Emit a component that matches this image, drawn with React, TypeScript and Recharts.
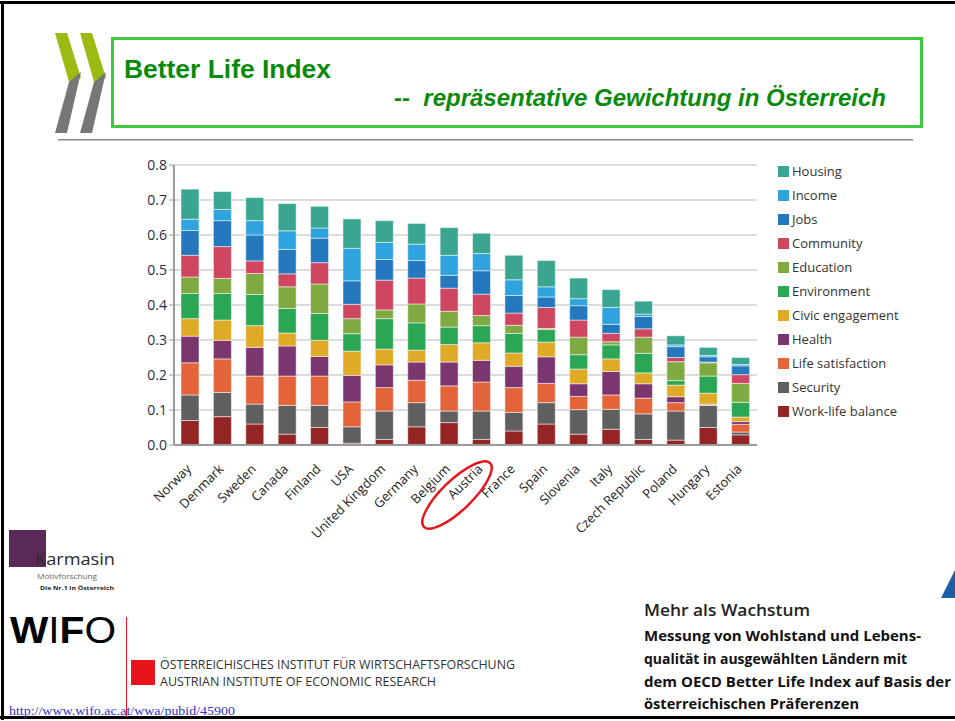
import { Bar, BarChart, CartesianGrid, XAxis, YAxis } from "recharts";

const countries = [
  "Norway", "Denmark", "Sweden", "Canada", "Finland", "USA", "United Kingdom", "Germany", "Belgium",
  "Austria", "France", "Spain", "Slovenia", "Italy", "Czech Republic", "Poland", "Hungary", "Estonia",
];

// stacked from the bottom up
const workLife = [0.07, 0.081, 0.06, 0.031, 0.05, 0.005, 0.016, 0.052, 0.064, 0.016, 0.04, 0.06, 0.031, 0.045, 0.016, 0.014, 0.05, 0.029];
const security = [0.073, 0.069, 0.057, 0.082, 0.063, 0.047, 0.081, 0.069, 0.033, 0.081, 0.053, 0.061, 0.07, 0.057, 0.073, 0.083, 0.063, 0.008];
const lifeSatisfaction = [0.092, 0.096, 0.08, 0.084, 0.084, 0.071, 0.067, 0.064, 0.072, 0.083, 0.071, 0.055, 0.038, 0.041, 0.045, 0.024, 0.002, 0.022];
const health = [0.076, 0.053, 0.082, 0.086, 0.056, 0.076, 0.065, 0.052, 0.068, 0.062, 0.061, 0.076, 0.036, 0.067, 0.041, 0.017, 0.002, 0.008];
const civic = [0.05, 0.058, 0.062, 0.037, 0.046, 0.069, 0.045, 0.034, 0.05, 0.05, 0.038, 0.042, 0.042, 0.036, 0.031, 0.033, 0.031, 0.013];
const environment = [0.072, 0.076, 0.089, 0.07, 0.077, 0.05, 0.087, 0.078, 0.05, 0.049, 0.056, 0.036, 0.041, 0.04, 0.056, 0.013, 0.049, 0.042];
const education = [0.047, 0.043, 0.06, 0.062, 0.084, 0.043, 0.025, 0.054, 0.045, 0.029, 0.023, 0.003, 0.05, 0.009, 0.046, 0.054, 0.038, 0.054];
const community = [0.062, 0.091, 0.036, 0.037, 0.061, 0.041, 0.085, 0.074, 0.066, 0.061, 0.035, 0.06, 0.049, 0.024, 0.024, 0.012, 0.002, 0.025];
const jobs = [0.071, 0.074, 0.074, 0.07, 0.07, 0.067, 0.059, 0.05, 0.037, 0.067, 0.05, 0.03, 0.041, 0.026, 0.035, 0.031, 0.015, 0.025];
const income = [0.032, 0.032, 0.041, 0.053, 0.029, 0.093, 0.049, 0.047, 0.057, 0.049, 0.045, 0.029, 0.02, 0.048, 0.007, 0.005, 0.004, 0.004];
const housing = [0.086, 0.051, 0.066, 0.078, 0.062, 0.084, 0.062, 0.059, 0.079, 0.058, 0.07, 0.075, 0.059, 0.051, 0.037, 0.026, 0.023, 0.02];

const yTicks = [0, 0.1, 0.2, 0.3, 0.4, 0.5, 0.6, 0.7, 0.8];

const series = [
  { key: "workLife", name: "Work-life balance", values: workLife, color: "#952524" },
  { key: "security", name: "Security", values: security, color: "#5f5f5f" },
  { key: "lifeSatisfaction", name: "Life satisfaction", values: lifeSatisfaction, color: "#e4643a" },
  { key: "health", name: "Health", values: health, color: "#7b3670" },
  { key: "civic", name: "Civic engagement", values: civic, color: "#dfaa25" },
  { key: "environment", name: "Environment", values: environment, color: "#2aa655" },
  { key: "education", name: "Education", values: education, color: "#7faa41" },
  { key: "community", name: "Community", values: community, color: "#cf4660" },
  { key: "jobs", name: "Jobs", values: jobs, color: "#2478bd" },
  { key: "income", name: "Income", values: income, color: "#2ea3dd" },
  { key: "housing", name: "Housing", values: housing, color: "#3aa68f" },
];

const rows = countries.map((country, i) => {
  const row: any = { country };
  series.forEach((s) => (row[s.key] = s.values[i]));
  return row;
});

const FONT = "'Open Sans', sans-serif";

const CountryTick = ({ x, y, payload }: any) => (
  <g transform={`translate(${x - 1},${y + 14})`}>
    <text x={0} y={0} dy={4} textAnchor="end" transform="rotate(-45)" fill="#222" fontSize={13} fontFamily={FONT}>
      {payload.value}
    </text>
  </g>
);

const Decor = () => (
  <svg width={955} height={721} style={{ position: "absolute", left: 0, top: 0, pointerEvents: "none" }}>
    {/* frame */}
    <rect x={0} y={1} width={955} height={3} fill="#000" />
    <rect x={1} y={1} width={3} height={719} fill="#000" />
    <rect x={0} y={716} width={955} height={3} fill="#000" />

    {/* OECD chevrons */}
    <polygon points="55,33 67,33 81,78 69,82" fill="#9bbb12" />
    <polygon points="69,82 81,72 67,133 55,133" fill="#777" />
    <polygon points="80,33 92,33 106,78 94,82" fill="#9bbb12" />
    <polygon points="94,82 106,72 92,133 80,133" fill="#777" />

    {/* title box */}
    <rect x={112.5} y={38.5} width={809} height={88} fill="none" stroke="#3ec93e" strokeWidth={3} />
    <text x={124} y={78} fill="#0a8a0a" fontSize={25} fontWeight="bold" fontFamily="'Liberation Sans', Arial, sans-serif" textLength={207} lengthAdjust="spacingAndGlyphs">
      Better Life Index
    </text>
    <text x={394} y={106} fill="#0a8a0a" fontSize={23} fontWeight="bold" fontStyle="italic" fontFamily="'Liberation Sans', Arial, sans-serif" textLength={492} lengthAdjust="spacingAndGlyphs">
      {"--\u00a0 repräsentative Gewichtung in Österreich"}
    </text>
    <rect x={58} y={139} width={855} height={1.5} fill="#888" />

    {/* highlight */}
    <ellipse cx={457} cy={495} rx={46} ry={15} transform="rotate(-44 457 495)" fill="none" stroke="#e8141b" strokeWidth={2.5} />

    {/* Karmasin */}
    <rect x={9} y={530} width={37} height={37} fill="#5c2a5a" />
    <text x={35} y={565} fill="#2a2a2a" fontSize={17} fontFamily="'Open Sans', sans-serif" textLength={80} lengthAdjust="spacingAndGlyphs">
      Karmasin
    </text>
    <text x={37} y={579} fill="#666" fontSize={8} fontFamily="'Open Sans', sans-serif" textLength={60} lengthAdjust="spacingAndGlyphs">
      Motivforschung
    </text>
    <text x={40} y={590} fill="#222" fontSize={6} fontWeight="bold" fontFamily="'Open Sans', sans-serif" textLength={74} lengthAdjust="spacingAndGlyphs">
      Die Nr.1 in Österreich
    </text>

    {/* WIFO */}
    <text x={10} y={643} fill="#000" fontSize={36} fontFamily="'Liberation Sans', Arial, sans-serif" textLength={106} lengthAdjust="spacingAndGlyphs">
      <tspan fontWeight="bold">W</tspan>
      <tspan>I</tspan>
      <tspan fontWeight="bold">F</tspan>
      <tspan>O</tspan>
    </text>
    <rect x={126} y={617} width={1} height={100} fill="#e8141b" />
    <rect x={131} y={660} width={24} height={25} fill="#e8141b" />
    <text x={160} y={669} fill="#333" fontSize={13} fontFamily="'Open Sans', sans-serif" textLength={355} lengthAdjust="spacingAndGlyphs">
      ÖSTERREICHISCHES INSTITUT FÜR WIRTSCHAFTSFORSCHUNG
    </text>
    <text x={160} y={686} fill="#333" fontSize={13} fontFamily="'Open Sans', sans-serif" textLength={276} lengthAdjust="spacingAndGlyphs">
      AUSTRIAN INSTITUTE OF ECONOMIC RESEARCH
    </text>
    <text x={9} y={715} fill="#3333cc" fontSize={13} fontFamily="'Liberation Serif', serif" textLength={226} lengthAdjust="spacingAndGlyphs">
      http://www.wifo.ac.at/wwa/pubid/45900
    </text>

    {/* publication */}
    <text x={644} y={616} fill="#222" fontSize={17} fontWeight={600} fontFamily="'Open Sans', sans-serif" textLength={166} lengthAdjust="spacingAndGlyphs">
      Mehr als Wachstum
    </text>
    <text x={644} y={641} fill="#111" fontSize={15} fontWeight="bold" fontFamily="'Open Sans', sans-serif" textLength={277} lengthAdjust="spacingAndGlyphs">
      Messung von Wohlstand und Lebens-
    </text>
    <text x={644} y={664} fill="#111" fontSize={15} fontWeight="bold" fontFamily="'Open Sans', sans-serif" textLength={263} lengthAdjust="spacingAndGlyphs">
      qualität in ausgewählten Ländern mit
    </text>
    <text x={644} y={687} fill="#111" fontSize={15} fontWeight="bold" fontFamily="'Open Sans', sans-serif" textLength={307} lengthAdjust="spacingAndGlyphs">
      dem OECD Better Life Index auf Basis der
    </text>
    <text x={644} y={709} fill="#111" fontSize={15} fontWeight="bold" fontFamily="'Open Sans', sans-serif" textLength={215} lengthAdjust="spacingAndGlyphs">
      österreichischen Präferenzen
    </text>
    <polygon points="955,570 955,598 941,598" fill="#1c5fa8" />
  </svg>
);

const Legend = () => (
  <div style={{ position: "absolute", left: 778, top: 159, fontFamily: FONT, fontSize: 13, color: "#333" }}>
    {[...series].reverse().map((s) => (
      <div key={s.key} style={{ display: "flex", alignItems: "center", height: 24 }}>
        <span style={{ width: 11, height: 11, background: s.color, marginRight: 3, display: "inline-block" }} />
        <span>{s.name}</span>
      </div>
    ))}
  </div>
);

const App = () => {
  return (
    <div style={{ position: "absolute", left: 0, top: 0, width: 955, height: 721, background: "#fff", overflow: "hidden" }}>
      <BarChart
        width={955}
        height={721}
        data={rows}
        margin={{ top: 165, right: 198, left: 134, bottom: 176 }}
        style={{ position: "absolute", left: 0, top: 0 }}
      >
        <CartesianGrid vertical={false} stroke="#dcdcdc" strokeWidth={2} />
        <XAxis
          dataKey="country"
          interval={0}
          height={100}
          tick={<CountryTick />}
          tickLine={false}
          axisLine={{ stroke: "#9a9a9a", strokeWidth: 2 }}
        />
        <YAxis
          width={40}
          domain={[0, 0.8]}
          ticks={yTicks}
          tickFormatter={(v: number) => v.toFixed(1)}
          tick={{ fill: "#1f2d45", fontSize: 14, fontFamily: FONT }}
          tickSize={5}
          tickLine={{ stroke: "#9a9a9a" }}
          axisLine={{ stroke: "#9a9a9a", strokeWidth: 2 }}
        />
        {series.map((s) => (
          <Bar
            key={s.key}
            dataKey={s.key}
            name={s.name}
            stackId="a"
            fill={s.color}
            stroke="#ffffff"
            strokeWidth={0.5}
            barSize={18}
            isAnimationActive={false}
          />
        ))}
      </BarChart>
      <Legend />
      <Decor />
    </div>
  );
};

export default App;
